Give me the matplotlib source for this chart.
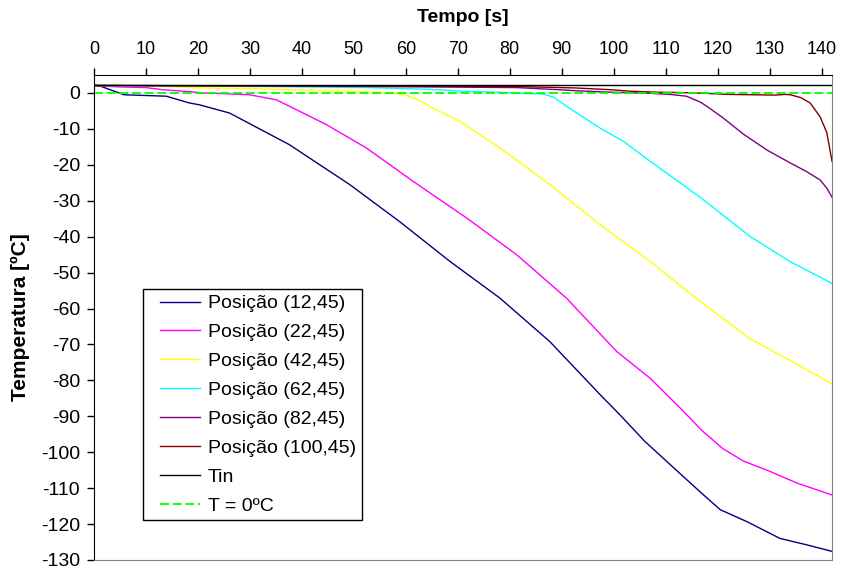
import matplotlib.pyplot as plt
from matplotlib.legend_handler import HandlerLine2D

plt.rcParams['font.family'] = ['Liberation Sans', 'DejaVu Sans']

# time [s] and temperature [C] for each position
t_12 = [0, 1.4, 5.8, 13.9, 18.4, 20.3, 26.1, 37.6, 49.2, 58.8, 68.5, 78.1, 87.7, 97.4,
        101.2, 106, 112.8, 116.6, 120.5, 125.6, 132, 137.2, 142]
T_12 = [2.1, 1.8, -0.5, -0.9, -2.8, -3.3, -5.6, -14.4, -25.5, -35.8, -46.9, -57.1, -69.2, -84,
        -89.6, -97, -106, -111, -116, -119.3, -124, -125.8, -127.6]

t_22 = [0, 4.5, 10, 13.2, 19, 21, 25, 29.9, 35.1, 44.7, 52.4, 61.4, 71.7, 81.3, 90.9,
        100.6, 107, 113, 117, 121, 125, 129.5, 135.3, 142]
T_22 = [2.1, 1.7, 1.5, 0.9, 0.3, 0, -0.2, -0.5, -1.9, -8.8, -15.3, -24.6, -34.8, -45, -57.1,
        -72, -79.4, -88, -94, -99, -102.5, -105, -108.6, -111.9]

t_42 = [0, 14, 18, 31, 37, 48.5, 55, 58, 60.1, 62.5, 65.2, 70.4, 78.1, 87.7, 97.4, 107,
        116.6, 126.3, 134, 142]
T_42 = [2.1, 1.8, 1.5, 1.2, 0.9, 0.5, 0.2, -0.1, -0.7, -2, -4.2, -7.9, -15.3, -25.5, -36.7, -46.9,
        -58, -68.5, -74.5, -81]

t_62 = [0, 31, 53, 66.5, 70.4, 78, 82, 86.4, 88.5, 90.9, 97.4, 101.9, 107, 116.6, 126.3,
        134, 138, 142]
T_62 = [2.1, 1.8, 1.5, 0.9, 0.5, 0.2, -0.1, -0.3, -1.2, -3.7, -9.8, -13.5, -19, -29, -40,
        -47, -50, -53]

t_82 = [0, 53, 81.3, 89.5, 93, 99.5, 107, 110.8, 114, 116.6, 117.9, 121, 125, 129.5, 134,
        137, 139.7, 141, 142]
T_82 = [2.1, 1.8, 1.5, 0.9, 0.6, 0.2, -0.1, -0.4, -0.9, -2.5, -3.7, -6.9, -11.5, -15.9, -19.5,
        -21.8, -24.2, -26.5, -29]

t_100 = [0, 81, 92.5, 99.5, 103, 108.5, 113.6, 117.5, 122, 131, 133, 134, 136, 137.8,
         139.7, 141, 142]
T_100 = [2.1, 1.8, 1.4, 0.9, 0.5, 0.2, 0.1, -0.1, -0.4, -0.6, -0.4, -0.5, -1.3, -2.8,
         -6.6, -11, -19]

t_in = [0, 142]
T_in = [2.1, 2.1]
T_zero = [0, 0]


class PadHandler(HandlerLine2D):
    # leave some blank space left of the legend line, like Excel does
    def create_artists(self, legend, orig_handle, xdescent, ydescent, width, height,
                       fontsize, trans):
        arts = super().create_artists(legend, orig_handle, xdescent, ydescent, width,
                                      height, fontsize, trans)
        for a in arts:
            x = list(a.get_xdata())
            if len(x) >= 2:
                x[0] = x[0] + 0.22 * width
                a.set_xdata(x)
        return arts


fig = plt.figure(figsize=(8.41, 5.74), dpi=100)
ax = fig.add_axes([94/841, 1 - 560/574, 738/841, 485/574])

lw = 1.0
ax.plot(t_12, T_12, color='#000080', lw=lw, label='Posição (12,45)')
ax.plot(t_22, T_22, color='#FF00FF', lw=lw, label='Posição (22,45)')
ax.plot(t_42, T_42, color='#FFFF00', lw=lw, label='Posição (42,45)')
ax.plot(t_62, T_62, color='#00FFFF', lw=lw, label='Posição (62,45)')
ax.plot(t_82, T_82, color='#800080', lw=lw, label='Posição (82,45)')
ax.plot(t_100, T_100, color='#800000', lw=lw, label='Posição (100,45)')
ax.plot(t_in, T_in, color='black', lw=lw, label='Tin')
ax.plot(t_in, T_zero, color='#00FF00', lw=1.3, ls=(0, (5, 2)), label='T = 0ºC')

ax.set_xlim(0, 142)
ax.set_ylim(-130, 5)
ax.set_xticks(range(0, 141, 10))
ax.set_yticks(range(-130, 1, 10))
ax.set_yticklabels([str(v) for v in range(-130, 1, 10)])

ax.xaxis.tick_top()
ax.xaxis.set_label_position('top')
ax.tick_params(axis='x', direction='out', length=5, width=1, labelsize=13, pad=7)
ax.tick_params(axis='y', direction='out', length=5, width=1, labelsize=14, pad=5)

ax.spines['top'].set_color('black')
ax.spines['left'].set_color('black')
ax.spines['bottom'].set_color('#808080')
ax.spines['right'].set_color('#808080')

ax.set_xlabel('Tempo [s]', fontsize=14, fontweight='bold', labelpad=14)
ax.set_ylabel('Temperatura [ºC]', fontsize=15, fontweight='bold', labelpad=8)

leg = ax.legend(loc='upper left', bbox_to_anchor=(0.0664, 0.559), borderaxespad=0,
                fontsize=14, frameon=True, fancybox=False, framealpha=1,
                edgecolor='black', handlelength=2.62, handletextpad=0.42,
                labelspacing=0.58, borderpad=0.3,
                handler_map={plt.Line2D: PadHandler()})
leg.get_frame().set_linewidth(1)

fig.savefig('out.png', dpi=100)
